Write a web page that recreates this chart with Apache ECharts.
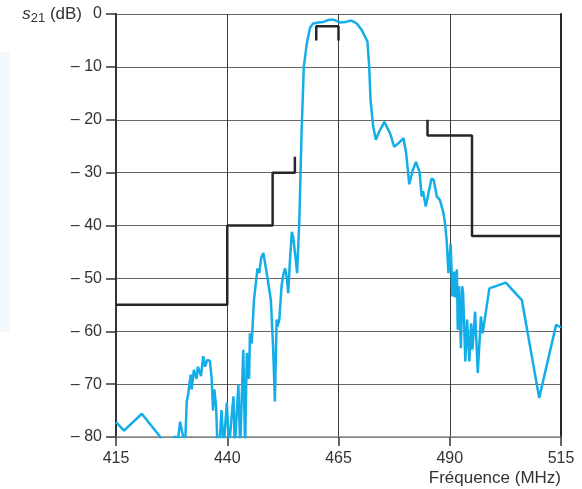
<!DOCTYPE html>
<html>
<head>
<meta charset="utf-8">
<script src="https://cdn.jsdelivr.net/npm/echarts@6/dist/echarts.min.js"></script>
<style>
  html, body { margin: 0; padding: 0; background: #fff; }
  #main { width: 582px; height: 489px; }
</style>
</head>
<body>
<div id="main"></div>
<script>
// axe des fréquences (MHz)
var X_MIN = 415;
var X_MAX = 515;
var xTicks = [415, 440, 465, 490, 515];
var yTicks = [0, -10, -20, -30, -40, -50, -60, -70, -80];

var freqs = [
    415, 416.8, 420.8, 424.7, 425.5, 426.5, 427.5, 428.0, 429.0, 429.4,
    430.1, 430.6, 430.9, 431.2, 431.5, 431.8, 432.0, 432.5, 433.1, 433.4,
    434.1, 434.6, 435.0, 435.5, 436.1, 436.5, 436.8, 437.1, 437.5, 437.8,
    438.1, 438.7, 439.2, 439.9, 440.4, 441.0, 441.4, 441.7, 442.1, 442.5,
    442.9, 443.6, 444.0, 444.4, 444.9, 445.1, 445.5, 446.0, 446.8, 447.2,
    447.6, 448.1, 448.5, 449.0, 449.8, 450.3, 450.7, 451.1, 451.3, 451.7,
    452.2, 452.6, 453.0, 453.4, 453.7, 454.1, 454.5, 454.8, 455.4, 455.7,
    456.2, 456.7, 457.2, 457.9, 458.6, 459.3, 460.5, 461.6, 462.5, 463.1,
    464.0, 465.3, 466.5, 467.5, 468.0, 469.1, 470.2, 471.5, 471.9, 472.2,
    472.8, 473.4, 474.0, 475.3, 476.6, 477.5, 478.4, 479.6, 480.2, 480.9,
    481.7, 482.4, 483.2, 483.7, 484.0, 484.6, 485.9, 486.4, 487.1, 487.8,
    488.6, 488.9, 489.3, 489.7, 490.2, 490.6, 491.0, 491.2, 491.6, 491.8,
    492.1, 492.5, 492.8, 493.0, 493.5, 493.9, 494.4, 494.8, 495.1, 495.7,
    496.3, 497.0, 497.4, 498.9, 502.6, 506.2, 510.1, 513.9, 514.6, 515
];
var s21 = [
    -77.2, -78.8, -75.6, -79.7, -81, -85, -84, -80, -80, -77.1,
    -80, -80, -73.3, -72, -70, -68.2, -71, -67.3, -69, -66.7,
    -68.5, -64.7, -66.7, -65.4, -65.6, -69, -75, -71, -74.2, -82,
    -84, -74.9, -82, -73.5, -82, -76, -72.3, -82, -76, -70.1,
    -82, -63.5, -82, -64.1, -69, -60.4, -62.3, -54.1, -48.1, -49,
    -46.2, -45.2, -47.1, -49.7, -54.1, -62.9, -73.3, -57.8, -59.1, -57.8,
    -51.5, -49.3, -48.1, -50, -52.8, -46.5, -41.2, -42.1, -46.5, -49,
    -39, -22.5, -10, -5.5, -2.6, -1.8, -1.6, -1.5, -1.2, -1.1,
    -1.1, -1.6, -1.5, -1.3, -1.3, -1.8, -3, -5.2, -10, -16.3,
    -21.3, -23.8, -22.5, -20.4, -22.6, -25.1, -24.5, -23.5, -26.3, -32.2,
    -29.5, -28, -29.8, -34.5, -33.5, -36.4, -31.1, -31.4, -34.5, -35.2,
    -37.7, -39.3, -42.7, -49, -43.4, -53.4, -48.7, -53.6, -48.3, -59.7,
    -51.5, -63.2, -51.5, -52.8, -65.7, -57.8, -65.7, -58.5, -63.5, -56.3,
    -67.9, -57.2, -60.4, -51.9, -50.8, -54.1, -72.6, -58.8, -59.1, -59.3
];

// gabarit (masque)
var maskLow = [[415, -55], [440, -55], [440, -40], [450.2, -40], [450.2, -30], [455.2, -30], [455.2, -27]];
var maskPass = [[460, -5], [460, -2.3], [465, -2.3], [465, -5]];
var maskHigh = [[485, -20], [485, -23], [495, -23], [495, -42], [515, -42]];

function shift(p) {
    return [p[0] - X_MIN, p[1]];
}

var curve = [];
for (var i = 0; i < freqs.length; i++) {
    curve.push([freqs[i] - X_MIN, s21[i]]);
}

var font = 'Liberation Sans';
var maskStyle = {color: '#262626', width: 2.5};

function maskSeries(pts) {
    return {
        type: 'line',
        data: pts.map(shift),
        showSymbol: false,
        silent: true,
        lineStyle: maskStyle,
        z: 3
    };
}

var option = {
    animation: false,
    grid: {left: 116, right: 21, top: 14, bottom: 52},
    graphic: [{
        type: 'rect',
        shape: {x: 0, y: 52, width: 10, height: 280},
        style: {fill: '#f3f9fd'},
        z: -1
    }],
    xAxis: {
        type: 'value',
        min: 0,
        max: X_MAX - X_MIN,
        interval: 25,
        name: 'Fréquence (MHz)',
        nameLocation: 'end',
        nameGap: 0,
        nameTextStyle: {
            fontFamily: font, fontSize: 17, color: '#333',
            align: 'right', verticalAlign: 'top', padding: [33, 0, 0, 0]
        },
        axisLine: {onZero: false, lineStyle: {color: '#8a8a8a', width: 1.5}},
        axisTick: {length: 9, lineStyle: {color: '#333', width: 1.5}},
        axisLabel: {
            fontFamily: font, fontSize: 16, color: '#333', margin: 14,
            formatter: function (v) { return String(v + X_MIN); }
        },
        splitLine: {show: true, lineStyle: {color: '#3a3a3a', width: 1}}
    },
    yAxis: [{
        type: 'value',
        min: -80,
        max: 0,
        interval: 10,
        name: '{i|s}{sub|21}{n| (dB)}',
        nameLocation: 'end',
        nameGap: 0,
        nameTextStyle: {
            align: 'right', verticalAlign: 'middle', padding: [0, 34, 0, 0],
            rich: {
                i: {fontFamily: font, fontSize: 17, fontStyle: 'italic', color: '#333', lineHeight: 18},
                sub: {fontFamily: font, fontSize: 13, color: '#333', lineHeight: 18, padding: [9, 0, 0, 0]},
                n: {fontFamily: font, fontSize: 17, color: '#333', lineHeight: 18}
            }
        },
        axisLine: {show: true, onZero: false, lineStyle: {color: '#333', width: 2}},
        axisTick: {length: 10, lineStyle: {color: '#333', width: 1.5}},
        axisLabel: {
            fontFamily: font, fontSize: 16, color: '#333', margin: 14,
            formatter: function (v) { return v === 0 ? '0' : '\u2013 ' + Math.abs(v); }
        },
        splitLine: {lineStyle: {color: '#666', width: 1}}
    }, {
        type: 'value',
        min: -80,
        max: 0,
        interval: 10,
        position: 'right',
        axisLine: {show: true, onZero: false, lineStyle: {color: '#262626', width: 2}},
        axisTick: {show: false},
        axisLabel: {show: false},
        splitLine: {show: false}
    }],
    series: [
        {
            type: 'line',
            data: curve,
            showSymbol: false,
            silent: true,
            lineStyle: {color: '#13ade8', width: 2.5},
            z: 4
        },
        maskSeries(maskLow),
        maskSeries(maskPass),
        maskSeries(maskHigh)
    ]
};

var chart = echarts.init(document.getElementById('main'));
chart.setOption(option);
</script>
</body>
</html>
